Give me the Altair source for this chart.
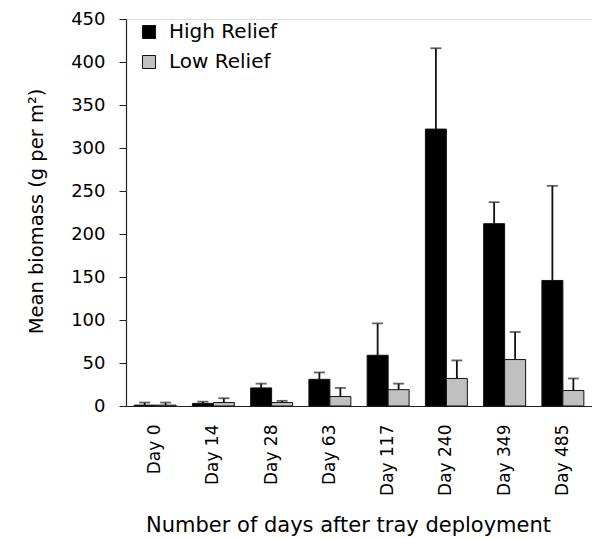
import altair as alt
import pandas as pd

days = ["Day 0", "Day 14", "Day 28", "Day 63", "Day 117", "Day 240", "Day 349", "Day 485"]
groups = ["High Relief", "Low Relief"]
high_mean = [1, 3, 21, 31, 59, 322, 212, 146]
high_err = [3, 2, 5, 8, 37, 94, 25, 110]
low_mean = [1, 4, 4, 11, 19, 32, 54, 18]
low_err = [3, 5, 2, 10, 7, 21, 32, 14]
y_ticks = [0, 50, 100, 150, 200, 250, 300, 350, 400, 450]

rows = []
for i, d in enumerate(days):
    rows.append({"day": d, "group": groups[0], "mean": high_mean[i], "upper": high_mean[i] + high_err[i]})
    rows.append({"day": d, "group": groups[1], "mean": low_mean[i], "upper": low_mean[i] + low_err[i]})
df = pd.DataFrame(rows)

FONT = "DejaVu Sans"

x_enc = alt.X(
    "day:N",
    sort=days,
    scale=alt.Scale(paddingInner=0.28, paddingOuter=0.14),
    axis=alt.Axis(
        title="Number of days after tray deployment",
        labelAngle=-90,
        labelAlign="right",
        labelBaseline="middle",
        labelPadding=18,
        labelFont=FONT,
        labelFontSize=17,
        labelColor="black",
        ticks=False,
        domainColor="#222222",
        domainWidth=1.2,
        titleFont=FONT,
        titleFontSize=21,
        titleFontWeight="normal",
        titleColor="black",
        titleX=222,
        titleY=119,
        titleBaseline="middle",
        titleAnchor="middle",
    ),
)
xoff = alt.XOffset("group:N", sort=groups, scale=alt.Scale(paddingInner=0, paddingOuter=0))
y_scale = alt.Scale(domain=[0, 450], nice=False, zero=True)

bars = alt.Chart(df).mark_bar(stroke="#111111", strokeWidth=1).encode(
    x=x_enc,
    xOffset=xoff,
    y=alt.Y(
        "mean:Q",
        scale=y_scale,
        axis=alt.Axis(
            title="Mean biomass (g per m²)",
            values=y_ticks,
            grid=False,
            tickSize=7,
            tickColor="#222222",
            domainColor="#222222",
            domainWidth=1.2,
            labelPadding=14,
            labelFont=FONT,
            labelFontSize=18,
            labelColor="black",
            titleFont=FONT,
            titleFontSize=19.5,
            titleFontWeight="normal",
            titleColor="black",
            titleX=-90,
            titleY=192,
            titleBaseline="middle",
            titleAngle=-90,
        ),
    ),
    color=alt.Color(
        "group:N",
        sort=groups,
        scale=alt.Scale(domain=groups, range=["#000000", "#c0c0c0"]),
        legend=alt.Legend(
            title=None,
            orient="none",
            legendX=13,
            legendY=3,
            padding=0,
            symbolType="square",
            symbolSize=169,
            symbolStrokeColor="#111111",
            symbolStrokeWidth=1,
            labelFont=FONT,
            labelFontSize=20,
            labelColor="black",
            labelOffset=10,
            rowPadding=10,
        ),
    ),
)

rules = alt.Chart(df).mark_rule(color="#111111", strokeWidth=1.8).encode(
    x=alt.X("day:N", sort=days),
    xOffset=xoff,
    y=alt.Y("mean:Q", scale=y_scale),
    y2="upper:Q",
)

caps = alt.Chart(df).mark_tick(color="#222222", thickness=1.8, size=11, orient="horizontal").encode(
    x=alt.X("day:N", sort=days),
    xOffset=xoff,
    y=alt.Y("upper:Q", scale=y_scale),
)

chart = (
    alt.layer(rules, caps, bars)
    .properties(
        width=466,
        height=387,
        autosize=alt.AutoSizeParams(type="none"),
        padding={"left": 126, "top": 19, "right": 0, "bottom": 132},
    )
    .configure_view(stroke=None)
    .configure(background="white")
)

chart.save("out.html", embed_options={"renderer": "svg", "actions": False})
